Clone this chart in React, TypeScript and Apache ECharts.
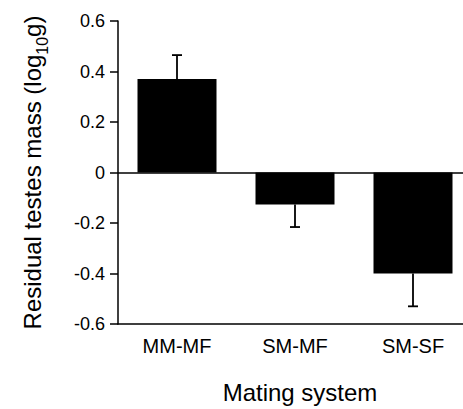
import React, { useEffect, useRef } from "react";
import * as echarts from "echarts";

const categories = ["MM-MF", "SM-MF", "SM-SF"];
const means = [0.37, -0.127, -0.4];
const errorEnds = [0.465, -0.216, -0.53];
const yTicks = { min: -0.6, max: 0.6, interval: 0.2 };

const FONT = "'Liberation Sans', Arial, Helvetica, sans-serif";

export default function App() {
  const ref = useRef<HTMLDivElement>(null);
  useEffect(() => {
    if (!ref.current) return;
    const chart = echarts.init(ref.current, null, { renderer: "svg" });
    const errData = categories.map((_, i) => [i, means[i], errorEnds[i]]);
    chart.setOption({
      animation: false,
      backgroundColor: "#ffffff",
      textStyle: { fontFamily: FONT, color: "#000" },
      grid: { left: 118, top: 21, width: 354, height: 303 },
      xAxis: {
        type: "category",
        data: categories,
        position: "bottom",
        axisLine: { onZero: false, lineStyle: { color: "#000", width: 1.5 } },
        axisTick: { alignWithLabel: true, length: 6, lineStyle: { color: "#000", width: 1.5 } },
        axisLabel: { color: "#000", fontSize: 20, margin: 12, fontFamily: FONT },
        name: "Mating system",
        nameLocation: "middle",
        nameGap: 56,
        nameTextStyle: { color: "#000", fontSize: 24, fontFamily: FONT, padding: [0, 0, 0, 10] },
      },
      yAxis: {
        type: "value",
        min: yTicks.min,
        max: yTicks.max,
        interval: yTicks.interval,
        splitLine: { show: false },
        axisLine: { show: true, lineStyle: { color: "#000", width: 1.5 } },
        axisTick: { show: true, length: 8, lineStyle: { color: "#000", width: 1.5 } },
        axisLabel: {
          color: "#000",
          fontSize: 18,
          margin: 13,
          fontFamily: FONT,
          formatter: (v: number) => {
            const r = Math.round(v * 10) / 10;
            return r === 0 ? "0" : r.toFixed(1);
          },
        },
        name: "{a|Residual testes mass (log}{s|10}{a|g)}",
        nameLocation: "middle",
        nameRotate: 90,
        nameGap: 74,
        nameTextStyle: {
          rich: {
            a: { fontSize: 24, fontFamily: FONT, color: "#000", lineHeight: 30, verticalAlign: "bottom" },
            s: { fontSize: 16, fontFamily: FONT, color: "#000", lineHeight: 30, verticalAlign: "bottom", padding: [0, 0, -6, 0] },
          },
        },
      },
      series: [
        {
          type: "bar",
          data: means,
          barWidth: 79,
          itemStyle: { color: "#000" },
          markLine: {
            silent: true,
            symbol: "none",
            label: { show: false },
            lineStyle: { color: "#000", width: 1.5, type: "solid" },
            data: [{ yAxis: 0 }],
          },
        },
        {
          type: "custom",
          data: errData,
          z: 5,
          renderItem: (params: any, api: any) => {
            const x = api.value(0);
            const base = api.coord([x, api.value(1)]);
            const end = api.coord([x, api.value(2)]);
            const half = 5;
            const style = { stroke: "#000", lineWidth: 1.8 };
            return {
              type: "group",
              children: [
                { type: "line", shape: { x1: base[0], y1: base[1], x2: end[0], y2: end[1] }, style },
                { type: "line", shape: { x1: end[0] - half, y1: end[1], x2: end[0] + half, y2: end[1] }, style },
              ],
            };
          },
        },
      ],
    });
    return () => chart.dispose();
  }, []);
  return (
    <div
      style={{ position: "fixed", left: 0, top: 0, width: 463, height: 409, overflow: "hidden", background: "#fff" }}
    >
      <div ref={ref} style={{ width: 480, height: 409 }} />
    </div>
  );
}
